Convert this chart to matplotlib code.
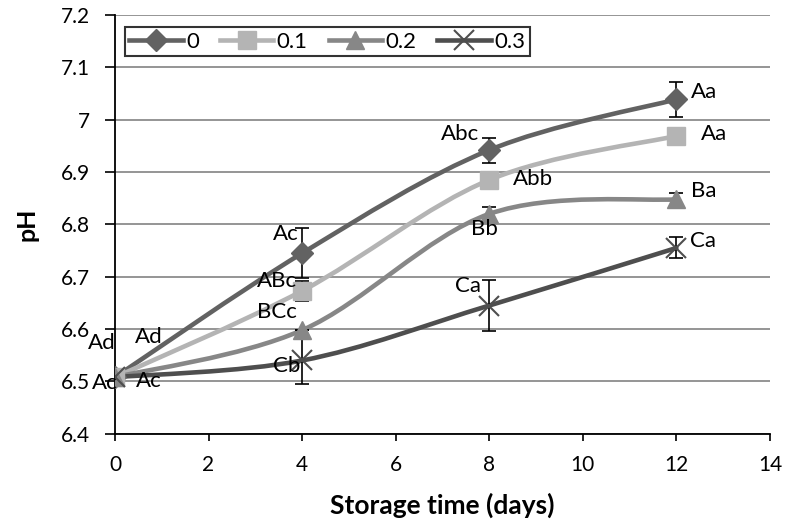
import numpy as np
import matplotlib.pyplot as plt
from matplotlib.path import Path
from matplotlib.patches import PathPatch

plt.rcParams["font.family"] = ["Lato", "DejaVu Sans"]

days = [0, 4, 8, 12]
series_names = ["0", "0.1", "0.2", "0.3"]
ph_0 = [6.508, 6.745, 6.942, 7.039]
ph_01 = [6.508, 6.673, 6.885, 6.969]
ph_02 = [6.508, 6.598, 6.820, 6.848]
ph_03 = [6.508, 6.540, 6.645, 6.755]
err_0 = [0.0, 0.048, 0.024, 0.034]
err_01 = [0.0, 0.019, 0.0, 0.0]
err_02 = [0.0, 0.0, 0.014, 0.012]
err_03 = [0.0, 0.045, 0.048, 0.02]
labels_0 = ["Ad", "Ac", "Abc", "Aa"]
labels_01 = ["Ad", "ABc", "Abb", "Aa"]
labels_02 = ["Ac", "BCc", "Bb", "Ba"]
labels_03 = ["Ac", "Cb", "Ca", "Ca"]

values = [ph_0, ph_01, ph_02, ph_03]
errors = [err_0, err_01, err_02, err_03]
labels = [labels_0, labels_01, labels_02, labels_03]

colors = ["#626262", "#b4b4b4", "#878787", "#4e4e4e"]
markers = ["D", "s", "^", "x"]
msizes = [11, 13.5, 13, 14]
# label offsets in points (dx, dy) per series / point
offsets = [
    [(-9.5, 25), (-11.5, 14), (-21, 11.5), (20, 5)],
    [(24, 29), (-18, 7), (31.5, 0.7), (27, 1.4)],
    [(-7.5, -4.3), (-18, 13), (-3.6, -10.8), (19.5, 5.8)],
    [(24.5, -3), (-11, -4.3), (-15, 14.4), (19.5, 5)],
]


def smooth_path(x, y):
    # Excel style smoothed line: cubic Bezier segments
    x = np.asarray(x, float)
    y = np.asarray(y, float)
    n = len(x)
    verts = [(x[0], y[0])]
    codes = [Path.MOVETO]
    for i in range(n - 1):
        xp, yp = (x[i - 1], y[i - 1]) if i > 0 else (x[i], y[i])
        xn, yn = (x[i + 2], y[i + 2]) if i + 2 < n else (x[i + 1], y[i + 1])
        c1 = (x[i] + (x[i + 1] - xp) / 6, y[i] + (y[i + 1] - yp) / 6)
        c2 = (x[i + 1] - (xn - x[i]) / 6, y[i + 1] - (yn - y[i]) / 6)
        verts += [c1, c2, (x[i + 1], y[i + 1])]
        codes += [Path.CURVE4] * 3
    return Path(verts, codes)


fig, ax = plt.subplots(figsize=(7.86, 5.29), dpi=100)
fig.subplots_adjust(left=0.1463, right=0.9796, top=0.9716, bottom=0.18)

for k in range(4):
    ax.add_patch(PathPatch(smooth_path(days, values[k]), fill=False,
                           edgecolor=colors[k], lw=3.3, zorder=3,
                           capstyle="round"))
    ax.errorbar(days, values[k], yerr=errors[k], fmt="none", ecolor="black",
                elinewidth=1.2, capsize=5, capthick=1.2, zorder=4)
    mkw = dict(markersize=msizes[k], color=colors[k], marker=markers[k])
    if markers[k] == "x":
        mkw.update(markeredgewidth=1.5)
    ax.plot(days, values[k], linestyle="none", zorder=5, **mkw)
    # legend proxy
    ax.plot([], [], lw=3.3, label=series_names[k], **mkw)
    for j in range(4):
        ax.annotate(labels[k][j], (days[j], values[k][j]),
                    xytext=offsets[k][j], textcoords="offset points",
                    ha="center", va="center", fontsize=16, zorder=6)

ax.set_xlim(0, 14)
ax.set_ylim(6.4, 7.2)
ax.set_xticks(np.arange(0, 15, 2))
ax.set_yticks(np.round(np.arange(6.4, 7.21, 0.1), 1))
ax.set_yticklabels(["6.4", "6.5", "6.6", "6.7", "6.8", "6.9", "7", "7.1", "7.2"])
ax.tick_params(labelsize=15, direction="out", width=1.2)
ax.tick_params(axis="x", length=5, pad=10)
ax.tick_params(axis="y", length=7, pad=11)
ax.grid(axis="y", color="#8c8c8c", lw=1.3)
ax.set_axisbelow(True)
for s in ["top", "right"]:
    ax.spines[s].set_visible(False)
for s in ["left", "bottom"]:
    ax.spines[s].set_linewidth(1.3)

ax.set_xlabel("Storage time (days)", fontsize=19, fontweight="bold", labelpad=13)
ax.set_ylabel("pH", fontsize=18, fontweight="bold", labelpad=16)

leg = ax.legend(loc="upper left", ncol=4, fontsize=16, frameon=True,
                fancybox=False, edgecolor="black", handlelength=2.4,
                handletextpad=0.15, columnspacing=0.95, borderpad=0.2,
                borderaxespad=0, bbox_to_anchor=(0.015, 0.971))
leg.get_frame().set_linewidth(1.5)

fig.savefig("out.png", dpi=100)
